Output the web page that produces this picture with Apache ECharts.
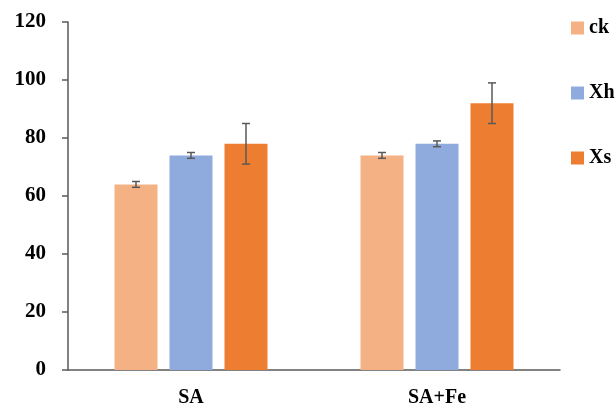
<!DOCTYPE html>
<html>
<head>
<meta charset="utf-8">
<script src="https://cdn.jsdelivr.net/npm/echarts@6/dist/echarts.min.js"></script>
<style>
  html, body { margin: 0; padding: 0; background: #fff; }
  #chart { width: 616px; height: 408px; }
</style>
</head>
<body>
<div id="chart"></div>
<script>
  // data
  const categories = ['SA', 'SA+Fe']
  const seriesNames = ['ck', 'Xh', 'Xs']
  const ckValues = [64, 74]
  const xhValues = [74, 78]
  const xsValues = [78, 92]
  const ckErr = [1, 1]
  const xhErr = [1, 1]
  const xsErr = [7, 7]
  const yTicks = [0, 20, 40, 60, 80, 100, 120]

  const colors = ['#F4B183', '#8FAADC', '#ED7D31']
  const axisColor = '#595959'
  const barW = 43
  const barGapPx = 12
  const font = '"Liberation Serif", "DejaVu Serif", serif'

  const values = [ckValues, xhValues, xsValues]
  const errs = [ckErr, xhErr, xsErr]

  let myChart = echarts.init(document.getElementById('chart'))

  function errorSeries(idx) {
    const data = categories.map((c, i) => [i, values[idx][i] - errs[idx][i], values[idx][i] + errs[idx][i]])
    const offset = (idx - 1) * (barW + barGapPx)
    return {
      type: 'custom',
      silent: true,
      z: 5,
      data: data,
      renderItem: function (params, api) {
        const lo = api.coord([api.value(0), api.value(1)])
        const hi = api.coord([api.value(0), api.value(2)])
        const x = lo[0] + offset
        const cap = 4
        const style = { stroke: axisColor, lineWidth: 1.5 }
        return {
          type: 'group',
          children: [
            { type: 'line', shape: { x1: x, y1: lo[1], x2: x, y2: hi[1] }, style: style },
            { type: 'line', shape: { x1: x - cap, y1: lo[1], x2: x + cap, y2: lo[1] }, style: style },
            { type: 'line', shape: { x1: x - cap, y1: hi[1], x2: x + cap, y2: hi[1] }, style: style }
          ]
        }
      },
      encode: { x: 0, y: [1, 2] }
    }
  }

  const barSeries = seriesNames.map((name, idx) => ({
    type: 'bar',
    name: name,
    data: values[idx],
    barWidth: barW,
    barGap: (barGapPx / barW * 100) + '%',
    itemStyle: { color: colors[idx] }
  }))

  myChart.setOption({
    animation: false,
    backgroundColor: '#fff',
    grid: {
      left: 68,
      right: 56,
      top: 22,
      bottom: 38,
      containLabel: false
    },
    legend: {
      orient: 'vertical',
      left: 566,
      top: 13,
      itemWidth: 13,
      itemHeight: 13,
      itemGap: 45,
      icon: 'rect',
      data: seriesNames,
      textStyle: {
        fontFamily: font,
        fontWeight: 'bold',
        fontSize: 20,
        color: '#000'
      }
    },
    xAxis: {
      type: 'category',
      data: categories,
      axisLine: { lineStyle: { color: axisColor, width: 1.5 } },
      axisTick: { show: false },
      axisLabel: {
        margin: 18,
        fontFamily: font,
        fontWeight: 'bold',
        fontSize: 20,
        color: '#000'
      }
    },
    yAxis: {
      type: 'value',
      min: 0,
      max: yTicks[yTicks.length - 1],
      interval: yTicks[1] - yTicks[0],
      splitLine: { show: false },
      axisLine: { show: true, lineStyle: { color: axisColor, width: 1.5 } },
      axisTick: { show: true, inside: false, length: 6, lineStyle: { color: axisColor, width: 1.5 } },
      axisLabel: {
        margin: 22,
        fontFamily: font,
        fontWeight: 'bold',
        fontSize: 21,
        color: '#000'
      }
    },
    series: barSeries.concat([errorSeries(0), errorSeries(1), errorSeries(2)])
  })
</script>
</body>
</html>
